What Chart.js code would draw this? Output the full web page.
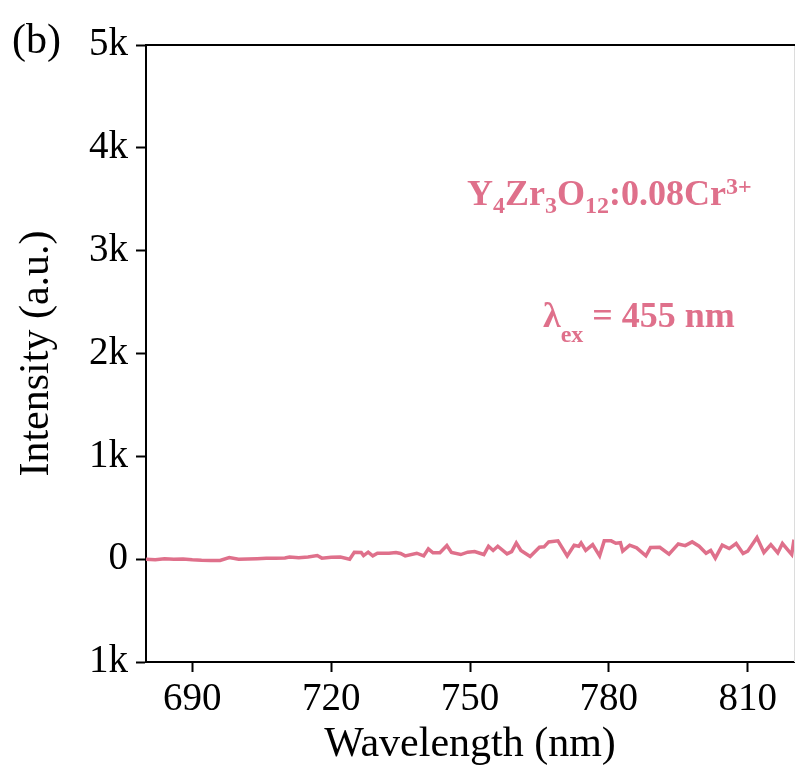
<!DOCTYPE html>
<html>
<head>
<meta charset="utf-8">
<script src="https://cdn.jsdelivr.net/npm/chart.js@4.4.1/dist/chart.umd.min.js"></script>
<style>
  html, body { margin: 0; padding: 0; background: #fff; }
  #wrap { width: 795px; height: 776px; position: relative; }
</style>
</head>
<body>
<div id="wrap"><canvas id="pl-chart"></canvas></div>
<script>
// Emission spectrum data (nm, a.u.)
const wavelength = [680, 682, 684, 686, 688, 690, 692, 694, 696, 698, 700, 702, 704, 706, 708, 710, 711, 713, 715, 717,
  718, 720, 722, 724, 725, 726.5, 727, 728, 729, 730, 732.5, 734, 735, 736, 738.5, 740, 741, 742, 743.5, 745,
  746, 748, 749.5, 751, 753, 754, 755, 756, 758, 759, 760, 761, 763, 765, 766, 767, 769, 771, 772.5, 773.5,
  774, 775, 776.5, 778, 779, 780.5, 781.5, 782.5, 783, 784.5, 786, 788, 789, 791, 793, 795, 796.5, 798, 799.5, 801,
  802, 803, 804.5, 806, 807.5, 809, 810, 812, 813.5, 815, 816.5, 817.5, 819.5, 820];
const intensity = [0, -5, 5, 0, 2, -5, -10, -12, -12, 15, 0, 2, 5, 8, 10, 12, 20, 15, 22, 35,
  10, 18, 20, 0, 68, 65, 35, 68, 32, 58, 58, 65, 55, 32, 58, 32, 100, 62, 62, 132,
  65, 45, 68, 74, 45, 126, 85, 126, 52, 74, 158, 85, 26, 116, 120, 168, 178, 32, 136, 126,
  158, 85, 142, 32, 178, 178, 155, 160, 78, 136, 110, 32, 113, 116, 48, 148, 132, 168, 126, 58,
  85, 10, 136, 103, 152, 55, 78, 210, 65, 142, 62, 152, 45, 190];

const xTicks = [690, 720, 750, 780, 810];
const yTicks = [-1000, 0, 1000, 2000, 3000, 4000, 5000];

const PINK = '#df708b';
const SERIF = '"Liberation Serif", "Times New Roman", serif';

// draw a run of [text, kind] pieces; kind: n = normal, sub, sup
function drawRich(ctx, pieces, x, y, size, smallSize, subDy, supDy) {
  let cx = x;
  pieces.forEach(([txt, kind]) => {
    const s = kind === 'n' ? size : smallSize;
    ctx.font = `bold ${s}px ${SERIF}`;
    const dy = kind === 'sub' ? subDy : kind === 'sup' ? supDy : 0;
    ctx.fillText(txt, cx, y + dy);
    cx += ctx.measureText(txt).width;
  });
}

const framePlugin = {
  id: 'frame',
  afterDatasetsDraw(chart) {
    const { ctx, chartArea: a, width } = chart;
    ctx.save();
    // top spine runs out to the canvas edge, the right side is cut off
    ctx.strokeStyle = '#000';
    ctx.lineWidth = 2;
    ctx.beginPath();
    ctx.moveTo(a.left, a.top);
    ctx.lineTo(width, a.top);
    ctx.stroke();
    ctx.strokeStyle = '#dcdcdc';
    ctx.lineWidth = 1;
    ctx.beginPath();
    ctx.moveTo(a.right + 0.5, a.top + 1);
    ctx.lineTo(a.right + 0.5, a.bottom);
    ctx.stroke();
    ctx.restore();
  },
  afterDraw(chart) {
    const ctx = chart.ctx;
    ctx.save();
    ctx.textBaseline = 'alphabetic';
    ctx.textAlign = 'left';
    ctx.fillStyle = '#000';
    ctx.font = `42px ${SERIF}`;
    ctx.fillText('(b)', 12, 53);

    ctx.fillStyle = PINK;
    drawRich(ctx, [['Y', 'n'], ['4', 'sub'], ['Zr', 'n'], ['3', 'sub'], ['O', 'n'], ['12', 'sub'],
      [':0.08Cr', 'n'], ['3+', 'sup']], 467, 205, 36, 24, 8, -11);
    drawRich(ctx, [['λ', 'n'], ['ex', 'sub'], [' = 455 nm', 'n']], 543, 327, 36, 24, 15, 0);
    ctx.restore();
  }
};

new Chart(document.getElementById('pl-chart'), {
  type: 'line',
  data: {
    datasets: [{
      data: wavelength.map((w, i) => ({ x: w, y: intensity[i] })),
      borderColor: PINK,
      borderWidth: 3.5,
      pointRadius: 0,
      tension: 0,
      fill: false
    }]
  },
  options: {
    responsive: true,
    maintainAspectRatio: false,
    animation: false,
    layout: { padding: { top: 45, right: 1, bottom: 4, left: 0 } },
    plugins: { legend: { display: false }, tooltip: { enabled: false } },
    scales: {
      x: {
        type: 'linear',
        min: 680,
        max: 820,
        afterBuildTicks: s => { s.ticks = xTicks.map(v => ({ value: v })); },
        afterFit: s => { s.height = 776 - 662 - 4; },
        grid: { drawOnChartArea: false, drawTicks: true, tickLength: 10, tickColor: '#000', tickWidth: 2 },
        border: { display: true, color: '#000', width: 2 },
        ticks: { color: '#000', font: { family: SERIF, size: 39 }, padding: 4, maxRotation: 0 },
        title: { display: true, text: 'Wavelength (nm)', color: '#000', font: { family: SERIF, size: 42 }, padding: { top: 0, bottom: 2 } }
      },
      y: {
        min: -1000,
        max: 5000,
        afterBuildTicks: s => { s.ticks = yTicks.map(v => ({ value: v })); },
        afterFit: s => { s.width = 146; },
        grid: { drawOnChartArea: false, drawTicks: true, tickLength: 10, tickColor: '#000', tickWidth: 2 },
        border: { display: true, color: '#000', width: 2 },
        ticks: {
          color: '#000',
          font: { family: SERIF, size: 39 },
          padding: 8,
          callback: v => v === 0 ? '0' : Math.abs(v / 1000) + 'k'
        },
        title: { display: true, text: 'Intensity (a.u.)', color: '#000', font: { family: SERIF, size: 42 }, padding: { top: 12, bottom: 0 } }
      }
    }
  },
  plugins: [framePlugin]
});
</script>
</body>
</html>
